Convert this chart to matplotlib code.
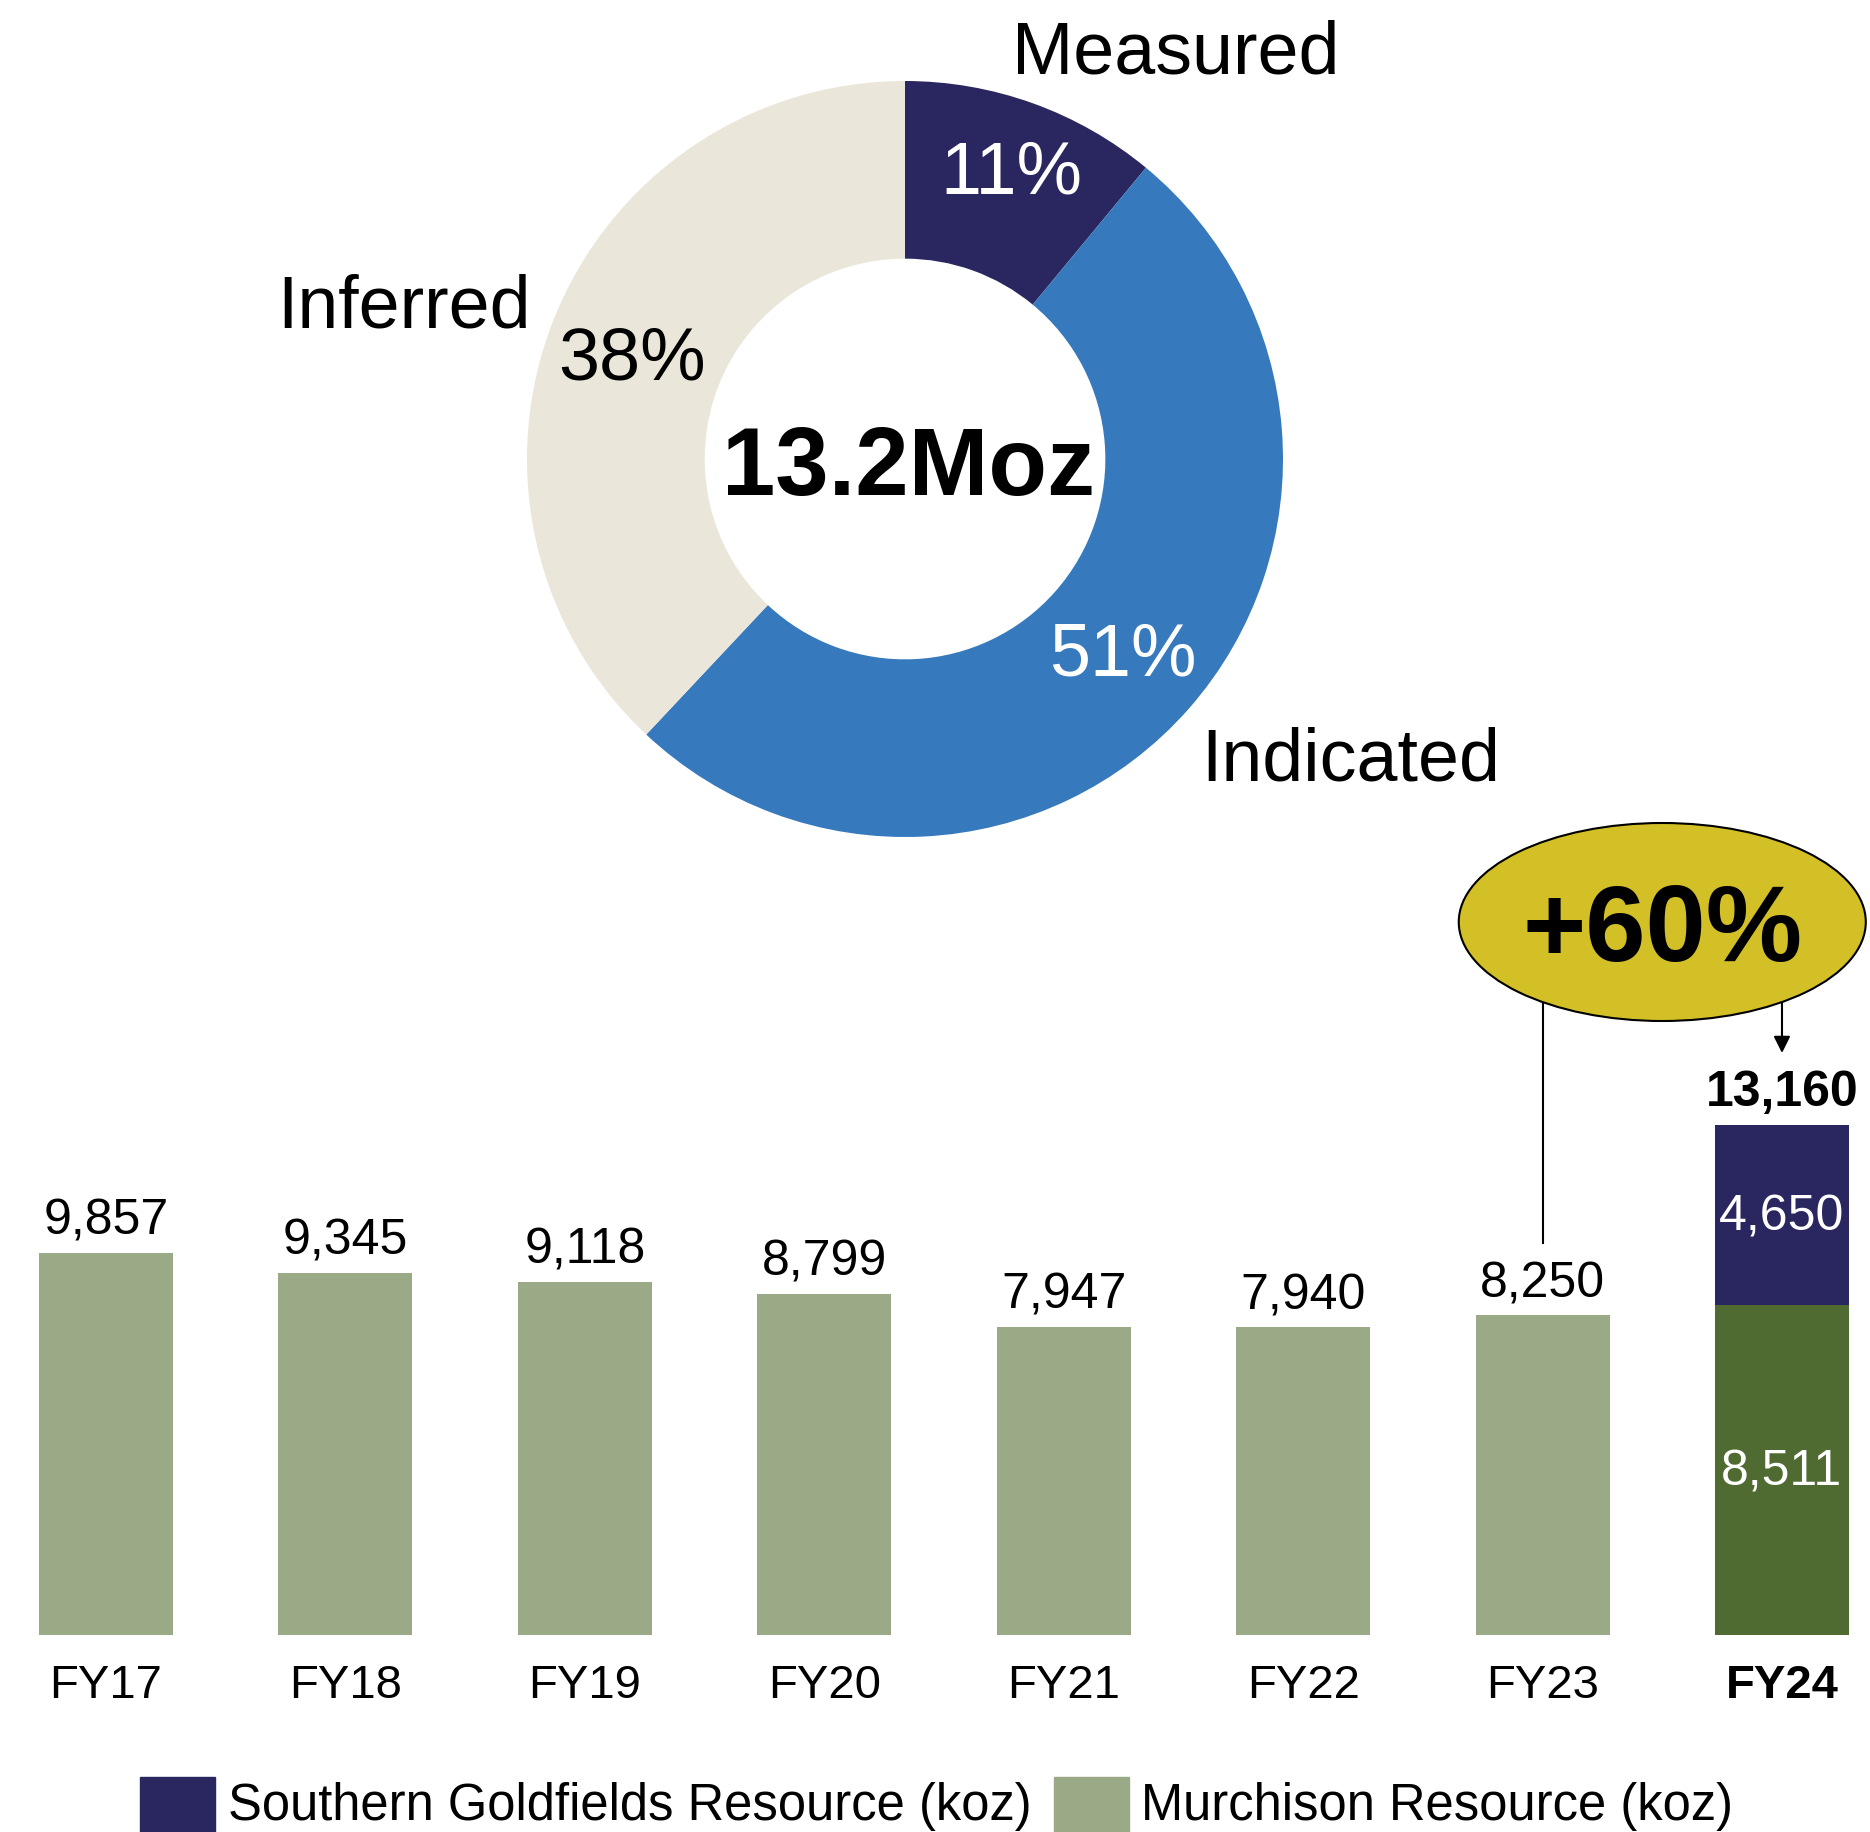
import matplotlib
matplotlib.use("Agg")
import matplotlib.pyplot as plt
from matplotlib.patches import Ellipse, Rectangle
from matplotlib.transforms import blended_transform_factory

plt.rcParams["font.family"] = ["Liberation Sans", "DejaVu Sans"]

W, H = 1870, 1832

# resource mix (donut)
mix_labels = ["Measured", "Indicated", "Inferred"]
mix_pct = [11, 51, 38]
mix_colors = ["#2a265f", "#3679bd", "#eae6d9"]
mix_text_colors = ["white", "white", "black"]
total_label = "13.2Moz"

# resource history (bars)
years = ["FY17", "FY18", "FY19", "FY20", "FY21", "FY22", "FY23", "FY24"]
murchison = [9857, 9345, 9118, 8799, 7947, 7940, 8250, 8511]
southern = [0, 0, 0, 0, 0, 0, 0, 4650]
fy24_total = 13160
growth_label = "+60%"

navy = "#2a265f"
light_green = "#9aaa86"
dark_green = "#4f6b32"
gold = "#d3bf26"

fig = plt.figure(figsize=(W / 100, H / 100), dpi=100)

def fx(px):
    return px / W

def fy(py):
    return 1 - py / H

# ---- donut ----
cx, cy, R = 905, 459, 378
axp = fig.add_axes([fx(cx - R), fy(cy + R), 2 * R / W, 2 * R / H])
axp.pie(mix_pct, colors=mix_colors, startangle=90, counterclock=False,
        radius=1, wedgeprops=dict(width=0.47, edgecolor="none"))
axp.set_xlim(-1, 1)
axp.set_ylim(-1, 1)
axp.set_aspect("equal")
axp.axis("off")

name_pos = [(1176, 73), (1351, 781), (404, 328)]
pct_pos = [(1011, 193), (1123, 676), (632, 379)]
for lab, p, tc, (nx, ny), (px_, py_) in zip(mix_labels, mix_pct, mix_text_colors, name_pos, pct_pos):
    fig.text(fx(nx), fy(ny), lab, ha="center", va="baseline", fontsize=53)
    fig.text(fx(px_), fy(py_), f"{p}%", ha="center", va="baseline", fontsize=53, color=tc)
fig.text(fx(908), fy(495), total_label, ha="center", va="baseline", fontsize=69, fontweight="bold")

# ---- bars ----
unit = 239.4
kpx = 0.03875
base, top = 1635, 820
ax = fig.add_axes([0, fy(base), 1, (base - top) / H])
ax.set_xlim(-106 / unit, 7 + (W - 1782) / unit)
ax.set_ylim(0, (base - top) / kpx)
ax.axis("off")

x = list(range(len(years)))
colors = [light_green] * (len(years) - 1) + [dark_green]
ax.bar(x, murchison, width=0.56, color=colors)
sx = [i for i, s in zip(x, southern) if s > 0]
sv = [s for s in southern if s > 0]
sb = [m for m, s in zip(murchison, southern) if s > 0]
ax.bar(sx, sv, bottom=sb, width=0.56, color=navy)

for i, (m, s) in enumerate(zip(murchison, southern)):
    if s == 0:
        ax.annotate(f"{m:,}", (i, m), xytext=(0, 13), textcoords="offset points",
                    ha="center", va="baseline", fontsize=36)
    else:
        ax.annotate(f"{fy24_total:,}", (i, m + s), xytext=(0, 14), textcoords="offset points",
                    ha="center", va="baseline", fontsize=36, fontweight="bold")
        ax.annotate(f"{m:,}", (i, m / 2), xytext=(0, -2), textcoords="offset points",
                    ha="center", va="center", fontsize=36, color="white")
        ax.annotate(f"{s:,}", (i, m + s / 2), xytext=(0, -2), textcoords="offset points",
                    ha="center", va="center", fontsize=36, color="white")
    ax.annotate(years[i], (i, 0), xytext=(0, -45), textcoords="offset points",
                ha="center", va="baseline", fontsize=34,
                fontweight="bold" if i == len(years) - 1 else "normal")

# growth callout
bt = blended_transform_factory(ax.transData, fig.transFigure)
ax.plot([6, 6], [fy(1003), fy(1243)], transform=bt, color="black", lw=1.5, clip_on=False)
ax.annotate("", xy=(7, fy(1053)), xytext=(7, fy(1003)), xycoords=bt, textcoords=bt,
            arrowprops=dict(arrowstyle="-|>", color="black", lw=1.5, mutation_scale=25,
                            shrinkA=0, shrinkB=0))
ax.add_patch(Ellipse((6.5, fy(922)), 407 / unit, 198 / H, transform=bt,
                     facecolor=gold, edgecolor="black", lw=1.5, clip_on=False, zorder=3))
ax.text(6.5, fy(961), growth_label, transform=bt, ha="center", va="baseline",
        fontsize=78, fontweight="bold", zorder=4)

# ---- legend ----
legend_items = [("Southern Goldfields Resource (koz)", navy, 140, 228),
                ("Murchison Resource (koz)", light_green, 1054, 1141)]
for lab, col, rx, tx in legend_items:
    fig.patches.append(Rectangle((fx(rx), 0), 75 / W, (H - 1777) / H,
                                 transform=fig.transFigure, color=col))
    fig.text(fx(tx), fy(1820), lab, ha="left", va="baseline", fontsize=36.5)

fig.savefig("out.png", dpi=100)
